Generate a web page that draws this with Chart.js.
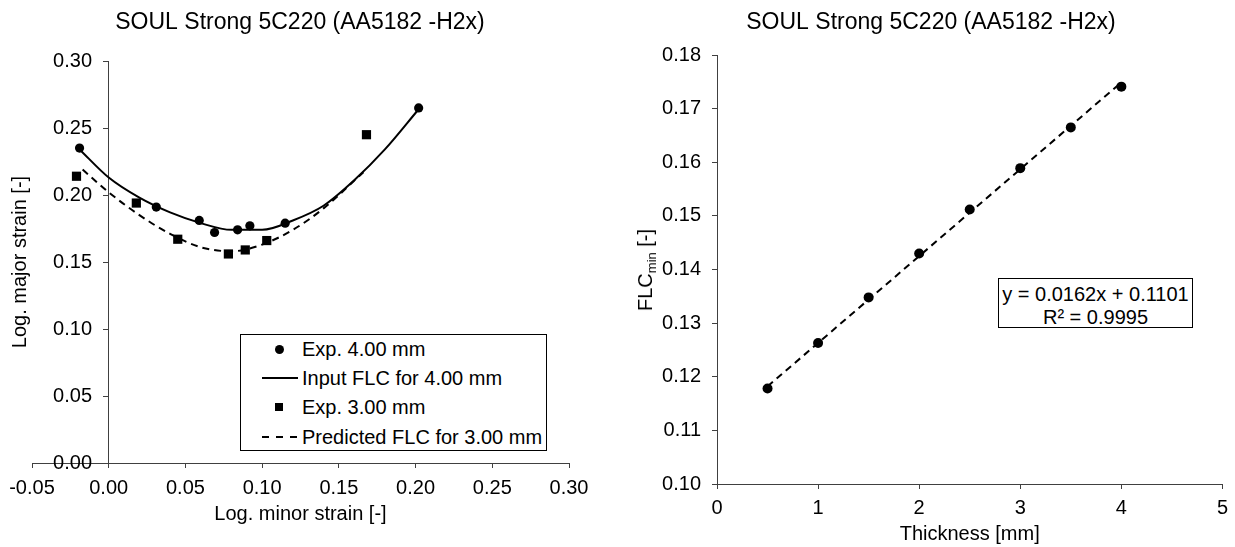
<!DOCTYPE html>
<html>
<head>
<meta charset="utf-8">
<script src="https://cdn.jsdelivr.net/npm/chart.js@4.4.1/dist/chart.umd.min.js"></script>
<style>
html,body{margin:0;padding:0;background:#fff;}
body{width:1235px;height:547px;position:relative;overflow:hidden;font-family:"Liberation Sans",Arial,sans-serif;color:#000;}
#w1{position:absolute;left:0;top:0;width:600px;height:547px;}
#w2{position:absolute;left:627px;top:0;width:608px;height:547px;}
.legend{position:absolute;left:240px;top:334px;width:307px;height:117px;border:1px solid #000;box-sizing:border-box;background:#fff;}
.row{position:absolute;left:0;height:24px;line-height:24px;font-size:20px;white-space:nowrap;}
.row .txt{position:absolute;left:61px;top:0;}
.mk{position:absolute;}
.eqbox{position:absolute;left:998px;top:278px;width:195px;height:50px;border:1px solid #000;box-sizing:border-box;text-align:center;font-size:20px;line-height:23px;padding-top:4px;background:#fff;}
#yt2{position:absolute;left:645px;top:270px;transform:translate(-50%,-50%) rotate(-90deg);font-size:20px;white-space:nowrap;line-height:22px;}
#yt2 sub{font-size:13px;vertical-align:-4px;line-height:0;}
</style>
</head>
<body>
<div id="w1"><canvas id="c1"></canvas></div>
<div id="w2"><canvas id="c2"></canvas></div>
<div class="legend" id="leg"></div>
<div class="eqbox" id="eq"></div>
<div id="yt2">FLC<sub>min</sub> [-]</div>
<script>
// ---- data ----
const exp4Minor = [-0.019, 0.031, 0.059, 0.069, 0.084, 0.092, 0.115, 0.202];
const exp4Major = [0.235, 0.191, 0.181, 0.172, 0.174, 0.177, 0.179, 0.265];
const exp3Minor = [-0.021, 0.018, 0.045, 0.078, 0.089, 0.103, 0.168];
const exp3Major = [0.214, 0.194, 0.167, 0.156, 0.159, 0.166, 0.245];
const flc4Minor = [-0.019, 0.000, 0.020, 0.040, 0.060, 0.080, 0.100, 0.120, 0.140, 0.160, 0.180, 0.202];
const flc4Major = [0.234, 0.213, 0.198, 0.187, 0.179, 0.174, 0.174, 0.181, 0.192, 0.211, 0.234, 0.264];
const flc3Minor = [-0.017, 0.000, 0.020, 0.040, 0.060, 0.080, 0.100, 0.120, 0.140, 0.166];
const flc3Major = [0.219, 0.202, 0.185, 0.171, 0.161, 0.158, 0.163, 0.174, 0.190, 0.217];
const seriesNames = ["Exp. 4.00 mm", "Input FLC for 4.00 mm", "Exp. 3.00 mm", "Predicted FLC for 3.00 mm"];

const thickness = [0.5, 1.0, 1.5, 2.0, 2.5, 3.0, 3.5, 4.0];
const flcMin = [0.1178, 0.1263, 0.1348, 0.1430, 0.1512, 0.1589, 0.1665, 0.1741];
const trendThickness = [0.5, 4.0];
const trendFlc = [0.1182, 0.1749];
const trendText = ["y = 0.0162x + 0.1101", "R\u00B2 = 0.9995"];

const chartTitle = "SOUL Strong 5C220 (AA5182 -H2x)";
const leftXTitle = "Log. minor strain [-]";
const leftYTitle = "Log. major strain [-]";
const rightXTitle = "Thickness [mm]";

// ---- helpers ----
const pts = (xs, ys) => xs.map((x, i) => ({x: x, y: ys[i]}));
const fmt2 = v => (Math.abs(v) < 1e-9 ? 0 : v).toFixed(2);
const FONT = '"Liberation Sans", Arial, sans-serif';
Chart.defaults.font.family = FONT;
Chart.defaults.color = '#000';
const AX = '#404040';
const DASH = [7, 5];
const spacer = (pos, w) => ({type: 'linear', position: pos, min: 0, max: 1,
  ticks: {display: false}, grid: {display: false, drawTicks: false}, border: {display: false},
  afterFit: s => { s.width = w; }});

// ---- left chart ----
new Chart(document.getElementById('c1'), {
  type: 'scatter',
  data: {
    datasets: [
      {label: seriesNames[0], data: pts(exp4Minor, exp4Major), pointStyle: 'circle', pointRadius: 4.6,
       backgroundColor: '#000', borderColor: '#000', borderWidth: 0, showLine: false, order: 1},
      {label: seriesNames[1], data: pts(flc4Minor, flc4Major), showLine: true, pointRadius: 0,
       borderColor: '#000', borderWidth: 2, cubicInterpolationMode: 'monotone', order: 3},
      {label: seriesNames[2], data: pts(exp3Minor, exp3Major), pointStyle: 'rect', pointRadius: 6.5,
       backgroundColor: '#000', borderColor: '#000', borderWidth: 0, showLine: false, order: 2},
      {label: seriesNames[3], data: pts(flc3Minor, flc3Major), showLine: true, pointRadius: 0,
       borderColor: '#000', borderWidth: 2, borderDash: DASH, cubicInterpolationMode: 'monotone', order: 4}
    ]
  },
  options: {
    responsive: true, maintainAspectRatio: false, animation: false,
    layout: {padding: 0},
    plugins: {
      legend: {display: false}, tooltip: {enabled: false},
      title: {display: true, text: chartTitle, color: '#000',
              font: {family: FONT, size: 23, weight: 'normal'}, padding: {top: 9, bottom: 24.4}}
    },
    scales: {
      x: {type: 'linear', position: 'bottom', min: -0.05, max: 0.30,
          ticks: {stepSize: 0.05, maxRotation: 0, autoSkip: false, padding: 8, color: '#000',
                  font: {size: 20}, callback: v => fmt2(v)},
          grid: {drawOnChartArea: false, drawTicks: true, tickLength: 5, color: AX},
          border: {display: true, color: AX, width: 1},
          title: {display: true, text: leftXTitle, color: '#000', font: {size: 20}, padding: {top: 0, bottom: 21}},
          afterFit: s => { s.height = 84; }},
      y: {type: 'linear', position: {x: 0}, min: 0, max: 0.30,
          ticks: {stepSize: 0.05, padding: 11, color: '#000', font: {size: 20},
                  callback: v => fmt2(v) + '   '},
          grid: {drawOnChartArea: false, drawTicks: true, tickLength: 5, color: AX},
          border: {display: true, color: AX, width: 1}},
      yt: {type: 'linear', position: 'left', min: 0, max: 1,
           ticks: {display: false}, grid: {display: false, drawTicks: false}, border: {display: false},
           title: {display: true, text: leftYTitle, color: '#000', font: {size: 20}, padding: {top: 8, bottom: 0}},
           afterFit: s => { s.width = 32; }},
      yr: spacer('right', 31)
    }
  }
});

// ---- right chart ----
new Chart(document.getElementById('c2'), {
  type: 'scatter',
  data: {
    datasets: [
      {label: 'FLCmin', data: pts(thickness, flcMin), pointStyle: 'circle', pointRadius: 5,
       backgroundColor: '#000', borderColor: '#000', borderWidth: 0, showLine: false, order: 1},
      {label: 'Linear trend', data: pts(trendThickness, trendFlc), showLine: true, pointRadius: 0,
       borderColor: '#000', borderWidth: 2, borderDash: DASH, order: 2}
    ]
  },
  options: {
    responsive: true, maintainAspectRatio: false, animation: false,
    layout: {padding: 0},
    plugins: {
      legend: {display: false}, tooltip: {enabled: false},
      title: {display: true, text: chartTitle, color: '#000',
              font: {family: FONT, size: 23, weight: 'normal'}, padding: {top: 9, bottom: 18.4}}
    },
    scales: {
      x: {type: 'linear', position: 'bottom', min: 0, max: 5,
          ticks: {stepSize: 1, maxRotation: 0, autoSkip: false, padding: 7, color: '#000', font: {size: 20}},
          grid: {drawOnChartArea: false, drawTicks: true, tickLength: 5, color: AX},
          border: {display: true, color: AX, width: 1},
          title: {display: true, text: rightXTitle, color: '#000', font: {size: 20}, padding: {top: 0, bottom: 1}},
          afterFit: s => { s.height = 63; }},
      y: {type: 'linear', position: 'left', min: 0.10, max: 0.18,
          ticks: {stepSize: 0.01, padding: 11, color: '#000', font: {size: 20}, callback: v => fmt2(v)},
          grid: {drawOnChartArea: false, drawTicks: true, tickLength: 5, color: AX},
          border: {display: true, color: AX, width: 1},
          afterFit: s => { s.width = 90; }},
      yr: spacer('right', 11)
    }
  }
});

// ---- HTML legend (left chart) ----
const leg = document.getElementById('leg');
const rowCentersRel = [14, 43, 72, 102];
const markers = [
  '<div class="mk" style="left:34px;top:8px;width:9px;height:9px;border-radius:50%;background:#000"></div>',
  '<div class="mk" style="left:21px;top:11px;width:36px;height:2px;background:#000"></div>',
  '<div class="mk" style="left:34px;top:8px;width:8px;height:8px;background:#000"></div>',
  '<div class="mk" style="left:21px;top:11px;width:36px;height:2px;background:repeating-linear-gradient(to right,#000 0 7px,transparent 7px 14px)"></div>'
];
seriesNames.forEach((name, i) => {
  const r = document.createElement('div');
  r.className = 'row';
  r.style.top = (rowCentersRel[i] - 12) + 'px';
  r.style.width = '100%';
  r.innerHTML = markers[i] + '<span class="txt">' + name + '</span>';
  leg.appendChild(r);
});

// ---- trend equation box ----
document.getElementById('eq').innerHTML = trendText.join('<br>');
</script>
</body>
</html>
